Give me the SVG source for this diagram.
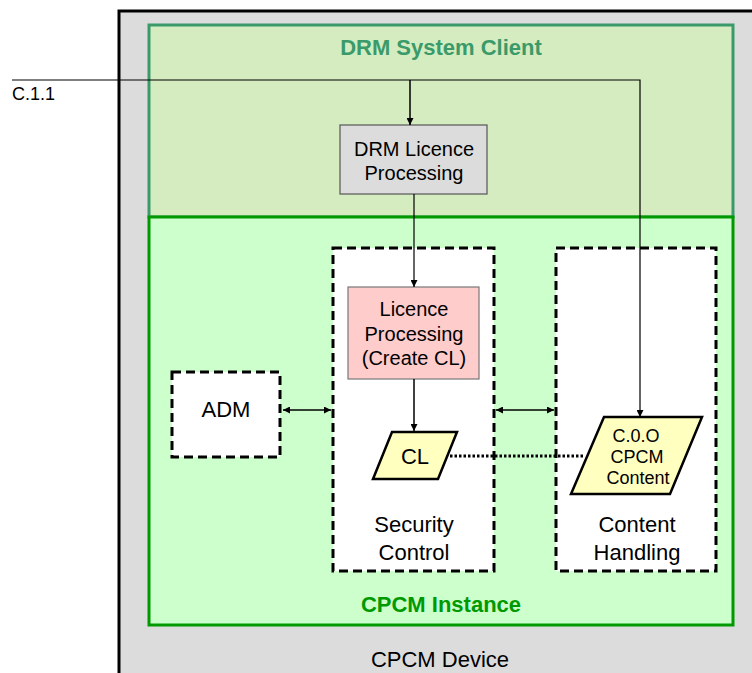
<svg xmlns="http://www.w3.org/2000/svg" width="752" height="673" viewBox="0 0 752 673">
<defs>
<style>
text{font-family:"Liberation Sans",Arial,sans-serif;fill:#000;text-anchor:middle}
.dash{fill:#fff;stroke:#000;stroke-width:3;stroke-dasharray:9 5}
.para{fill:#ffffc0;stroke:#000;stroke-width:2.5}
.ln{stroke:#000;fill:none}
</style>
<marker id="ah" viewBox="0 0 10 10" refX="10" refY="5" markerWidth="7" markerHeight="7" markerUnits="userSpaceOnUse" orient="auto-start-reverse"><path d="M0,0 L10,5 L0,10 z" fill="#000"/></marker>
</defs>
<rect width="752" height="673" fill="#fff"/>
<g id="device">
<rect x="119" y="11" width="700" height="700" fill="#dcdcdc" stroke="#000" stroke-width="3"/>
<text x="440" y="667" font-size="22">CPCM Device</text>
</g>
<g id="drm-client">
<rect x="149" y="25" width="584" height="192" fill="#d4ecc0" stroke="#3a9a6a" stroke-width="3"/>
<text x="441" y="55" font-size="22" font-weight="bold" style="fill:#3a9a6a">DRM System Client</text>
</g>
<g id="cpcm-instance">
<rect x="149" y="217" width="584" height="408" fill="#ccffcc" stroke="#009900" stroke-width="3"/>
<text x="441" y="612" font-size="22" font-weight="bold" style="fill:#009900">CPCM Instance</text>
</g>
<g id="security-control">
<rect class="dash" x="333" y="248" width="161" height="323"/>
<text x="414" y="532" font-size="22">Security</text>
<text x="414" y="560" font-size="22">Control</text>
</g>
<g id="content-handling">
<rect class="dash" x="556" y="248" width="160" height="323"/>
<text x="637" y="532" font-size="22">Content</text>
<text x="637" y="560" font-size="22">Handling</text>
</g>
<g id="adm">
<rect class="dash" x="172" y="372" width="108" height="85"/>
<text x="226" y="417" font-size="22">ADM</text>
</g>
<g id="drm-licence-processing">
<rect x="340" y="125" width="147" height="69" fill="#dcdcdc" stroke="#555" stroke-width="1.2"/>
<text x="414" y="156" font-size="20">DRM Licence</text>
<text x="414" y="180" font-size="20">Processing</text>
</g>
<g id="licence-processing">
<rect x="348" y="287" width="131" height="92" fill="#ffcccc" stroke="#777" stroke-width="1.2"/>
<text x="414" y="316" font-size="20">Licence</text>
<text x="414" y="341" font-size="20">Processing</text>
<text x="414" y="365" font-size="20">(Create CL)</text>
</g>
<g id="cl">
<polygon class="para" points="392,432 457,432 438,479 373,479"/>
<text x="415" y="464" font-size="22">CL</text>
</g>
<g id="content">
<polygon class="para" points="604,417 702,417 670,494 571,494"/>
<text x="636" y="442" font-size="18">C.0.O</text>
<text x="637" y="463" font-size="18">CPCM</text>
<text x="638" y="484" font-size="18">Content</text>
</g>
<g id="c11">
<text x="12" y="100" font-size="18" style="text-anchor:start">C.1.1</text>
</g>
<g id="connectors">
<path class="ln" d="M12,80 H640 V417" stroke-width="1.2" marker-end="url(#ah)"/>
<path class="ln" d="M410,80 V125" stroke-width="1.5" marker-end="url(#ah)"/>
<path class="ln" d="M414,194 V287" stroke-width="1.2" marker-end="url(#ah)"/>
<path class="ln" d="M414,379 V431" stroke-width="1.5" marker-end="url(#ah)"/>
<path class="ln" d="M283,410 H331" stroke-width="1.5" marker-start="url(#ah)" marker-end="url(#ah)"/>
<path class="ln" d="M496,410 H554" stroke-width="1.5" marker-start="url(#ah)" marker-end="url(#ah)"/>
<path class="ln" d="M450,456 H585" stroke-width="3" stroke-dasharray="2.5 2"/>
</g>
</svg>
